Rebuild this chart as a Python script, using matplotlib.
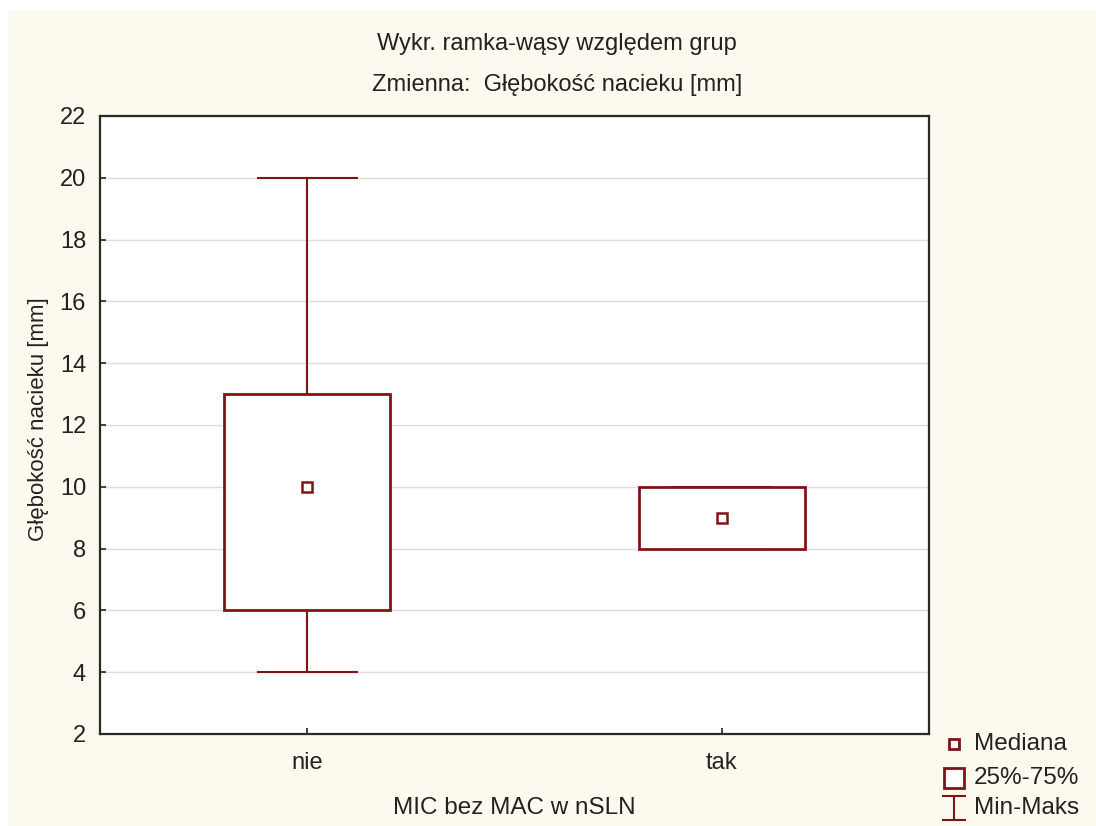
import matplotlib.pyplot as plt
from matplotlib.lines import Line2D
from matplotlib.path import Path
from matplotlib.patches import Rectangle

plt.rcParams['font.family'] = ['Liberation Sans', 'DejaVu Sans']

# Data
groups = ["nie", "tak"]
medians = [10, 9]
q25 = [6, 8]
q75 = [13, 10]
mins = [4, 8]
maxs = [20, 10]
legend_labels = ["Mediana", "25%-75%", "Min-Maks"]

RED = "#7f1416"
BG = "#fcf9ee"
TXT = "#222222"
W, H = 1096, 826

fig = plt.figure(figsize=(W / 100, H / 100), dpi=100, facecolor="white")
# cream background with thin white strip at top/left
fig.patches.append(Rectangle((8 / W, 0), 1, 1 - 10 / H, transform=fig.transFigure,
                             facecolor=BG, edgecolor="none", zorder=-10))

ax = fig.add_axes([100 / W, 1 - 734 / H, 829 / W, 618 / H])
ax.set_facecolor("white")

pos = [1, 2]
bw = 0.4
cw = 0.24
for x, md, lo, hi, mn, mx in zip(pos, medians, q25, q75, mins, maxs):
    ax.plot([x, x], [mn, lo], color=RED, lw=1.5, zorder=3)
    ax.plot([x, x], [hi, mx], color=RED, lw=1.5, zorder=3)
    ax.plot([x - cw / 2, x + cw / 2], [mn, mn], color=RED, lw=1.5, zorder=3)
    ax.plot([x - cw / 2, x + cw / 2], [mx, mx], color=RED, lw=1.5, zorder=3)
    ax.add_patch(Rectangle((x - bw / 2, lo), bw, hi - lo, facecolor="white",
                           edgecolor=RED, lw=2, zorder=4))
    ax.plot(x, md, marker="s", ms=7.5, mfc="white", mec=RED, mew=1.8, zorder=5)

ax.set_xlim(0.5, 2.5)
ax.set_ylim(2, 22)
ax.set_yticks(range(2, 23, 2))
ax.set_xticks(pos)
ax.set_xticklabels(groups)
ax.yaxis.grid(True, color="#dddddd", lw=1)
ax.set_axisbelow(True)
ax.tick_params(direction="in", length=4, width=1.2, labelsize=17, colors=TXT)
ax.tick_params(axis="y", pad=10)
ax.tick_params(axis="x", pad=13)
for s in ax.spines.values():
    s.set_linewidth(1.6)
    s.set_color("#2a2a2a")

fig.text(557 / W, 1 - 44 / H, "Wykr. ramka-wąsy względem grup", ha="center", va="center",
         fontsize=17, color=TXT)
fig.text(557 / W, 1 - 85 / H, "Zmienna:  Głębokość nacieku [mm]", ha="center", va="center",
         fontsize=17, color=TXT)
fig.text(514 / W, 1 - 808 / H, "MIC bez MAC w nSLN", ha="center", va="center",
         fontsize=17.5, color=TXT)
fig.text(39 / W, 1 - 419 / H, "Głębokość nacieku [mm]", ha="center", va="center",
         rotation=90, fontsize=16, color=TXT)

# legend drawn in figure coordinates
ibeam = Path([(-1, 1), (1, 1), (0, 1), (0, -1), (-1, -1), (1, -1)],
             [Path.MOVETO, Path.LINETO, Path.MOVETO, Path.LINETO, Path.MOVETO, Path.LINETO])
leg_rows = [744, 778, 808]
leg_markers = [
    dict(marker="s", ms=7, mfc="white", mec=RED, mew=2),
    dict(marker="s", ms=15, mfc="white", mec=RED, mew=2),
    dict(marker=ibeam, ms=17, mec=RED, mew=1.5),
]
for y, lab, mk in zip(leg_rows, legend_labels, leg_markers):
    fig.add_artist(Line2D([954 / W], [1 - y / H], ls="none", transform=fig.transFigure, **mk))
    fig.text(974 / W, 1 - y / H, lab, ha="left", va="center", fontsize=17.5, color=TXT)

fig.savefig("out.png", dpi=100, facecolor=fig.get_facecolor())
